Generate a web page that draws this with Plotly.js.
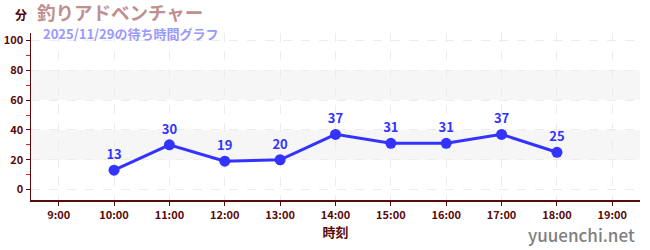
<!DOCTYPE html>
<html><head><meta charset="utf-8">
<script src="https://cdn.plot.ly/plotly-3.0.1.min.js"></script>
<style>body{margin:0;padding:0;background:#fff}#chart{width:650px;height:250px}</style>
</head><body><div id="chart"></div>
<script>
const times = ['2025-11-29 10:00','2025-11-29 11:00','2025-11-29 12:00','2025-11-29 13:00','2025-11-29 14:00','2025-11-29 15:00','2025-11-29 16:00','2025-11-29 17:00','2025-11-29 18:00'];
const waits = [13,30,19,20,37,31,31,37,25];
const title = '釣りアドベンチャー';
const subtitle = '2025/11/29の待ち時間グラフ';
const bands = [[20,40],[60,80]];
const font = '"Noto Sans CJK JP", "Noto Sans", sans-serif';
const axisCol = '#5a0a0a';

const shapes = bands.map(b => ({type:'rect', xref:'paper', yref:'y', x0:0, x1:1, y0:b[0], y1:b[1], fillcolor:'#f6f6f6', line:{width:0}, layer:'below'}));

const data = [{
  x: times, y: waits, type:'scatter', mode:'lines+markers+text',
  text: waits.map(String), textposition:'top center',
  textfont:{family:font, size:13, color:'#3333ff', weight:'bold'},
  line:{color:'#3333ff', width:3},
  marker:{color:'#3333ff', size:11},
  hoverinfo:'none', cliponaxis:false
}];

const layout = {
  width:650, height:250,
  margin:{l:31, r:10, t:33, b:50},
  paper_bgcolor:'#fff', plot_bgcolor:'#fff',
  showlegend:false,
  font:{family:font},
  shapes: shapes,
  xaxis:{
    type:'date', range:['2025-11-29 08:30','2025-11-29 19:30'],
    dtick:3600000, tick0:'2025-11-29 09:00', tickformat:'%-H:%M',
    showline:true, linecolor:axisCol, linewidth:1.5,
    ticks:'outside', ticklen:4, tickcolor:axisCol,
    showgrid:true, gridcolor:'#ececec', griddash:'dash', gridwidth:1,
    zeroline:false,
    tickfont:{family:font, size:11, color:'#5a0a0a', weight:'bold'},
    title:{text:'時刻', font:{family:font, size:13, color:'#5a0a0a', weight:'bold'}, standoff:2}
  },
  yaxis:{
    range:[-7,105], dtick:20, tick0:0,
    showline:true, linecolor:axisCol, linewidth:1.5,
    ticks:'outside', ticklen:4, tickcolor:axisCol,
    showgrid:true, gridcolor:'#ececec', griddash:'dash', gridwidth:1,
    zeroline:false,
    tickfont:{family:font, size:11, color:'#5a0a0a', weight:'bold'},
    minor:{dtick:10, tick0:0, ticks:'outside', ticklen:4, tickcolor:'#dd2222', showgrid:false}
  },
  annotations:[
    {text:title, xref:'paper', yref:'paper', x:0, xshift:4, y:1, yshift:20.8, xanchor:'left', yanchor:'middle', showarrow:false, font:{family:font, size:18.5, color:'#c09090', weight:'bold'}},
    {text:subtitle, xref:'paper', yref:'paper', x:0.016, y:1, yshift:0, xanchor:'left', yanchor:'middle', showarrow:false, font:{family:font, size:13, color:'#9999ff', weight:'bold'}},
    {text:'分', xref:'paper', yref:'paper', x:0, xshift:-10, y:1, yshift:19, xanchor:'center', yanchor:'middle', showarrow:false, font:{family:font, size:12, color:'#4d0000', weight:'bold'}},
    {text:'yuuenchi.net', xref:'paper', yref:'paper', x:1, xshift:-3, y:0, yshift:-34, xanchor:'right', yanchor:'middle', showarrow:false, font:{family:font, size:17, color:'#808080', weight:500}}
  ]
};
Plotly.newPlot('chart', data, layout, {displayModeBar:false, staticPlot:true});
</script></body></html>
